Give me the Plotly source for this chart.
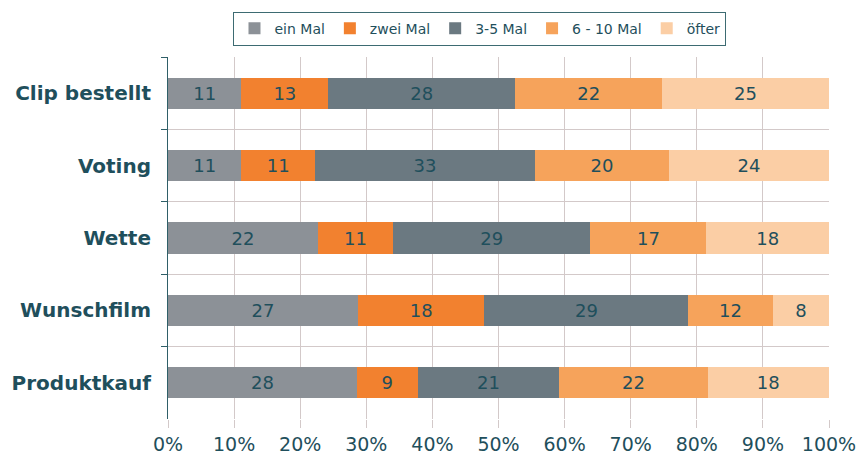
import plotly.graph_objects as go

categories = ["Clip bestellt", "Voting", "Wette", "Wunschfilm", "Produktkauf"]
series_names = ["ein Mal", "zwei Mal", "3-5 Mal", "6 - 10 Mal", "öfter"]
ein_mal = [11, 11, 22, 27, 28]
zwei_mal = [13, 11, 11, 18, 9]
drei_fuenf = [28, 33, 29, 29, 21]
sechs_zehn = [22, 20, 17, 12, 22]
oefter = [25, 24, 18, 8, 18]
x_ticks = [0, 10, 20, 30, 40, 50, 60, 70, 80, 90, 100]
x_tick_labels = [f"{t}%" for t in x_ticks]

colors = ["#8c9197", "#f2812f", "#6b7981", "#f6a35b", "#fbcea5"]
text_col = "#1f4f5c"
font_family = "DejaVu Sans, Verdana, sans-serif"

fig = go.Figure()
for name, vals, col in zip(series_names, [ein_mal, zwei_mal, drei_fuenf, sechs_zehn, oefter], colors):
    fig.add_trace(go.Bar(
        name=name, y=categories, x=vals, orientation="h",
        marker=dict(color=col, line=dict(width=0)),
        text=vals, texttemplate="%{text}", textposition="inside",
        insidetextanchor="middle", constraintext="none",
        textfont=dict(color=text_col, size=18, family=font_family),
    ))

fig.update_layout(
    barmode="stack", barnorm="percent", bargap=0.57,
    width=856, height=464,
    margin=dict(l=168, r=27, t=57, b=45, autoexpand=False),
    paper_bgcolor="white", plot_bgcolor="white",
    font=dict(family=font_family, color=text_col),
    legend=dict(orientation="h", x=0.472, xanchor="center", y=1.125, yanchor="top",
                bordercolor="#3d6b72", borderwidth=1, font=dict(size=14, color=text_col),
                traceorder="normal", itemwidth=30, tracegroupgap=0),
    showlegend=True,
)
fig.update_xaxes(range=[0, 100], tickvals=x_ticks, ticktext=x_tick_labels,
                 showgrid=True, gridcolor="#d3c9c9", gridwidth=1,
                 ticks="outside", ticklen=8, tickcolor="#d3c9c9",
                 tickfont=dict(size=19, color=text_col), zeroline=False,
                 showline=False, automargin=False, ticklabeloverflow="allow")
fig.update_yaxes(categoryorder="array", categoryarray=categories, autorange="reversed",
                 tickson="boundaries", showgrid=True, gridcolor="#d3c9c9",
                 ticks="outside", ticklen=6, tickcolor="#2f5f68",
                 showline=True, linecolor="#2f5f68", linewidth=1,
                 tickfont=dict(size=20, color=text_col, family=font_family, weight="bold"),
                 ticklabelstandoff=12, automargin=False)

fig.write_html("out.html", config={"displayModeBar": False},
               post_script="document.body.style.margin='0';document.body.style.overflow='hidden';")
